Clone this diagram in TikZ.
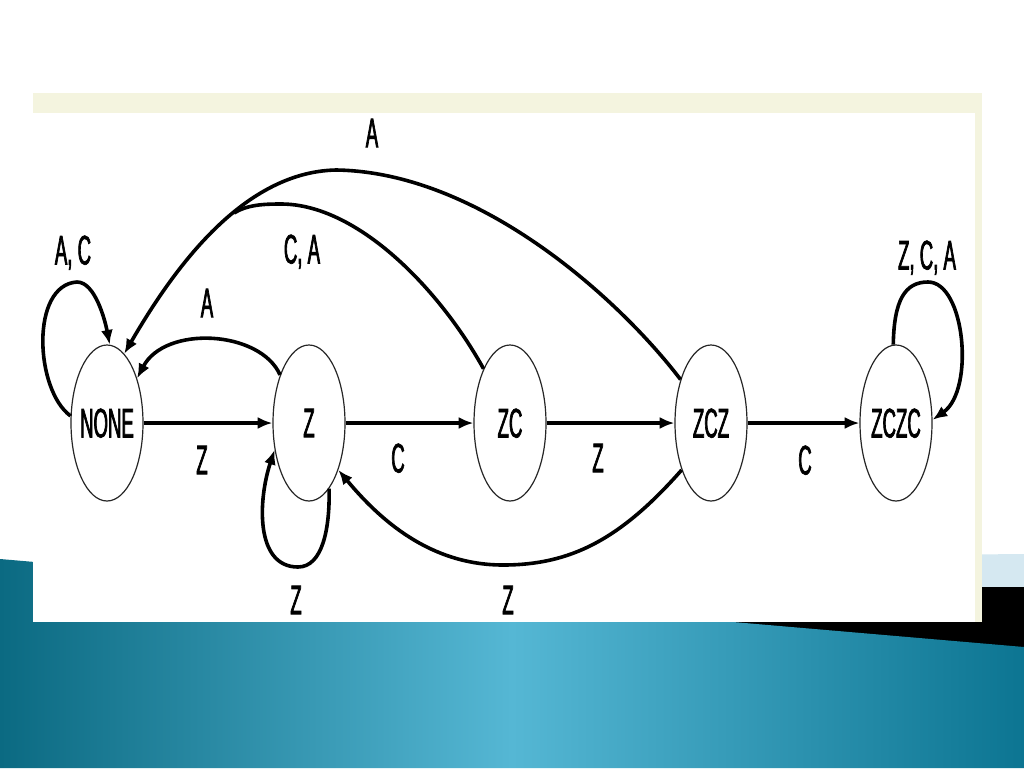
\documentclass[tikz,border=0pt]{standalone}
\usepackage{fontspec}
\usepackage{graphicx}
\setmainfont{Liberation Sans}
\newfontfamily\cond[FakeStretch=0.45,FakeBold=1.6]{Liberation Sans}
\usetikzlibrary{shapes.geometric,arrows.meta}
\definecolor{tealL}{HTML}{0B6A82}
\definecolor{tealM}{HTML}{55B7D4}
\definecolor{tealR}{HTML}{0C7592}
\definecolor{cream}{HTML}{F4F4DF}
\definecolor{lblue}{HTML}{D5E8F1}
\begin{document}
\begin{tikzpicture}[x=0.75pt,y=-0.75pt,
  stnode/.style={ellipse, draw=black!85, line width=0.9pt, minimum width=54pt, minimum height=117pt, inner sep=0pt},
  lbl/.style={font=\cond\fontsize{31}{31}\selectfont, inner sep=0pt, text depth=0pt},
  arrs/.style={line width=3.4pt, -{Latex[length=11pt,width=9pt]}},
  arrc/.style={line width=2.7pt, -{Latex[length=11pt,width=9pt]}},
  linec/.style={line width=2.7pt}]
% background
\useasboundingbox (0,0) rectangle (1024,768);
\fill[white] (0,0) rectangle (1024,768);
\fill[lblue] (700,557) -- (1024,554) -- (1024,587) -- (700,587) -- cycle;
\fill[black] (600,587) rectangle (1024,720);
\shade[left color=tealL, right color=tealR, middle color=tealM] (0,559) -- (1024,647) -- (1024,768) -- (0,768) -- cycle;
\fill[cream] (33,93) rectangle (982,622);
\fill[white] (33,113) rectangle (975,622);
% states
\node[stnode, label={[lbl]center:NONE}] (NONE) at (107,423) {};
\node[stnode, label={[lbl]center:Z}] (Z) at (309,423) {};
\node[stnode, label={[lbl]center:ZC}] (ZC) at (510,423) {};
\node[stnode, label={[lbl]center:ZCZ}] (ZCZ) at (711,423) {};
\node[stnode, label={[lbl]center:ZCZC}] (ZCZC) at (896,423) {};
% straight transitions
\draw[arrs] (NONE) -- (Z);
\draw[arrs] (Z) -- (ZC);
\draw[arrs] (ZC) -- (ZCZ);
\draw[arrs] (ZCZ) -- (ZCZC);
% curved transitions
\draw[arrc] (NONE.169) .. controls (35,390) and (30,285) .. (77,282) .. controls (95,282) and (105,320) .. (NONE.88);
\draw[arrc] (Z.121) .. controls (260,330) and (165,325) .. (NONE.56);
\draw[arrc] (Z.287) .. controls (330,530) and (322,567) .. (298,567) .. controls (255,567) and (258,500) .. (Z.218);
\draw[arrc] (ZCZ.125) .. controls (620,300) and (480,172) .. (336,170) .. controls (240,172) and (170,275) .. (NONE.76);
\coordinate (m) at (234,213);
\draw[linec] (ZC.116) .. controls (440,290) and (358,204) .. (281,204) .. controls (262,204) and (247,205) .. (m);
\draw[arrc] (ZCZ.238) .. controls (620,540) and (570,565) .. (503,565) .. controls (430,565) and (380,520) .. (Z.302);
\draw[arrc] (ZCZC.92) .. controls (894,300) and (905,282) .. (928,282) .. controls (965,282) and (975,390) .. (ZCZC.5);
% labels
\node[lbl] (lAC) at (73,250) {A, C};
\node[lbl] (lCA) at (302,249) {C, A};
\node[lbl] (lAtop) at (372,133) {A};
\node[lbl] (lA) at (207,303) {A};
\node[lbl] (lZ1) at (202,460) {Z};
\node[lbl] (lC1) at (398,458) {C};
\node[lbl] (lZ2) at (598,458) {Z};
\node[lbl] (lC2) at (805,460) {C};
\node[lbl] (lZ3) at (296,600) {Z};
\node[lbl] (lZ4) at (508,600) {Z};
\node[lbl] (lZCA) at (927,255) {Z, C, A};
\end{tikzpicture}
\end{document}
